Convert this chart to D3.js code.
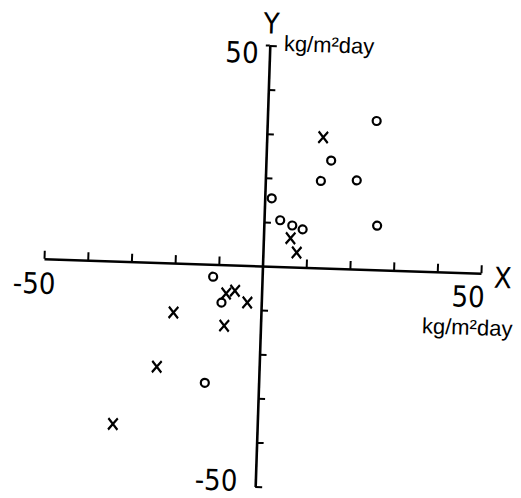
<!DOCTYPE html>
<html>
<head>
<meta charset="utf-8">
<script src="https://cdn.jsdelivr.net/npm/d3@7"></script>
<style>
  body { margin: 0; background: #fff; }
  svg { display: block; }
  .num { font-family: "Liberation Sans Narrow", "DejaVu Sans Condensed", sans-serif; font-size: 29px; fill: #000; }
  .unit { font-family: "Liberation Sans", Arial, sans-serif; font-size: 22px; fill: #000; }
</style>
</head>
<body>
<div id="chart"></div>
<script>
// circles (o)
var circleX = [25.0, 14.9, 12.7, 20.9, 1.6, 3.7, 6.5, 8.9, 25.9, -11.2, -9.1, -12.3];
var circleY = [33.7, 24.4, 19.7, 20.1, 15.4, 10.5, 9.4, 8.6, 10.0, -2.8, -8.6, -26.9];
// crosses (x)
var crossX = [12.9, 6.2, 7.7, -8.1, -6.1, -3.2, -20.0, -8.3, -23.4, -33.0];
var crossY = [29.6, 6.5, 3.3, -6.5, -5.8, -8.4, -11.2, -13.8, -23.6, -36.9];

var tickValues = [-50, -40, -30, -20, -10, 10, 20, 30, 40, 50];
var unitLabel = "kg/m²day";

svgWidth = 521;
svgHeight = 498;

// center of the cross of axes, and scan tilt
cx = 262.5;
cy = 266;
tilt = 1.9;

svg = d3.select("#chart")
    .append("svg")
    .attr("width", svgWidth)
    .attr("height", svgHeight);

chartGroup = svg.append("g")
    .attr("transform", `rotate(${tilt}, ${cx}, ${cy})`);

var xScale = d3.scaleLinear()
    .domain([-50, 50])
    .range([cx - 218.6, cx + 218.6]);

var yScale = d3.scaleLinear()
    .domain([-50, 50])
    .range([cy + 220.6, cy - 220.6]);

//axes
var xAxis = d3.axisTop(xScale)
    .tickValues(tickValues)
    .tickSize(8)
    .tickSizeOuter(0)
    .tickFormat("");

var yAxis = d3.axisRight(yScale)
    .tickValues(tickValues)
    .tickSize(7)
    .tickSizeOuter(0)
    .tickFormat("");

var gx = chartGroup.append("g")
    .attr("transform", `translate(0, ${cy})`)
    .call(xAxis);

var gy = chartGroup.append("g")
    .attr("transform", `translate(${cx}, 0)`)
    .call(yAxis);

[gx, gy].forEach(function (g) {
    g.select(".domain").attr("stroke", "#000").attr("stroke-width", 2.6);
    g.selectAll(".tick line").attr("stroke", "#000").attr("stroke-width", 2);
});

// small stub on the left of the top tick
gy.append("line")
    .attr("x1", -4).attr("x2", 0)
    .attr("y1", yScale(50)).attr("y2", yScale(50))
    .attr("stroke", "#000").attr("stroke-width", 2);

//points
chartGroup.selectAll("circle.o")
    .data(circleX)
    .enter()
    .append("circle")
    .attr("class", "o")
    .attr("cx", d => xScale(d))
    .attr("cy", (d, i) => yScale(circleY[i]))
    .attr("r", 4)
    .attr("fill", "none")
    .attr("stroke", "#000")
    .attr("stroke-width", 2.2);

var cross = d3.symbol().type(d3.symbolTimes).size(66);

chartGroup.selectAll("path.x")
    .data(crossX)
    .enter()
    .append("path")
    .attr("class", "x")
    .attr("d", cross)
    .attr("transform", (d, i) => `translate(${xScale(d)}, ${yScale(crossY[i])}) scale(0.95, 1.15)`)
    .attr("fill", "none")
    .attr("stroke", "#000")
    .attr("stroke-width", 2.2);

//labels
chartGroup.append("text").attr("class", "num")
    .attr("x", xScale(-50) - 9).attr("y", cy + 35)
    .attr("text-anchor", "middle").text("-50");

chartGroup.append("text").attr("class", "num")
    .attr("x", xScale(50) - 12).attr("y", cy + 34)
    .attr("text-anchor", "middle").text("50");

chartGroup.append("text").attr("class", "num")
    .attr("x", xScale(50) + 22).attr("y", cy + 14)
    .attr("text-anchor", "middle").text("X");

chartGroup.append("text").attr("class", "num")
    .attr("x", cx + 1).attr("y", yScale(50) - 12)
    .attr("text-anchor", "middle").text("Y");

chartGroup.append("text").attr("class", "num")
    .attr("x", cx - 11).attr("y", yScale(50) + 18)
    .attr("text-anchor", "end").text("50");

chartGroup.append("text").attr("class", "num")
    .attr("x", cx - 18).attr("y", yScale(-50) + 5)
    .attr("text-anchor", "end").text("-50");

chartGroup.append("text").attr("class", "unit")
    .attr("x", cx + 14).attr("y", yScale(50) + 5)
    .text(unitLabel);

chartGroup.append("text").attr("class", "unit")
    .attr("x", xScale(50) - 12).attr("y", cy + 62)
    .attr("text-anchor", "middle").text(unitLabel);
</script>
</body>
</html>
